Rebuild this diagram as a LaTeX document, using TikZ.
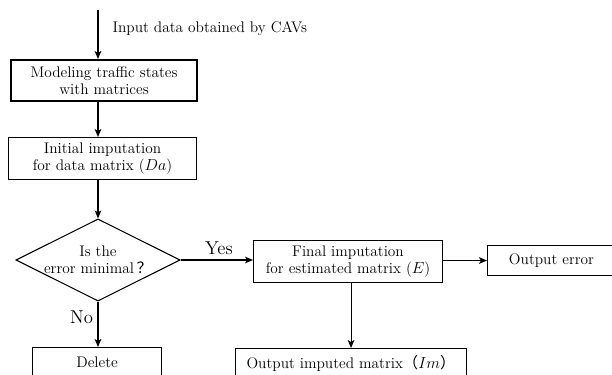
\documentclass[tikz,border=0pt]{standalone}
\usepackage{fontspec}
\newfontfamily\cjk{Noto Sans CJK SC}
\usetikzlibrary{shapes.geometric,arrows.meta}
\tikzset{
  box/.style={draw, thick, inner sep=0pt, align=center, anchor=north west},
  decision/.style={draw, thick, diamond, aspect=2, inner sep=0pt, align=center,
    minimum width=117.75pt, minimum height=60pt},
  flow/.style={-{Stealth[length=6pt, width=5pt, inset=1.5pt]}, thick},
  lbl/.style={font=\fontsize{14}{16}\selectfont}
}
\begin{document}
\begin{tikzpicture}[x=0.75pt, y=-0.75pt, font=\fontsize{11.5}{13}\selectfont]
            \useasboundingbox (0,0) rectangle (612,375);

            % 输入
            \coordinate (in) at (98,10);
            \node[anchor=west] (intxt) at (108,29) {Input data obtained by CAVs};

            % 矩阵建模
            \node[box, line width=1.6pt, minimum width=139.5pt, minimum height=30.75pt] (model) at (10,59)
                {Modeling traffic states\\with matrices};

            % 初始补全
            \node[box, minimum width=141pt, minimum height=31.5pt] (init) at (8,137)
                {Initial imputation\\for data matrix ($Da$)};

            % 判断
            \node[decision] (check) at (98,260)
                {Is the\\error minimal\,{\cjk ？}};

            % 最终补全
            \node[box, minimum width=141.75pt, minimum height=31.5pt] (final) at (253,240)
                {Final imputation\\for estimated matrix ($E$)};

            % 输出
            \node[box, minimum width=96pt, minimum height=22.5pt] (err) at (487,245) {Output error};
            \node[box, minimum width=173.25pt, minimum height=22.5pt] (imout) at (235,348)
                {Output imputed matrix{\cjk （}$Im${\cjk ）}};
            \node[box, minimum width=96.75pt, minimum height=22.5pt] (del) at (32,347) {Delete};

            % 箭头
            \draw[flow] (in) -- (in |- model.north);
            \draw[flow] (model.south -| in) -- (init.north -| in);
            \draw[flow] (init.south -| in) -- (check.north);
            \draw[flow] (check.east) -- node[lbl, above, pos=0.53] {Yes} (check.east -| final.west);
            \draw[flow] (final.east |- err.west) -- (err.west);
            \draw[flow] (final.south -| imout.north) -- (imout.north);
            \draw[flow] (check.south) -- node[lbl, left, pos=0.35] {No} (check.south |- del.north);
        \end{tikzpicture}
\end{document}
